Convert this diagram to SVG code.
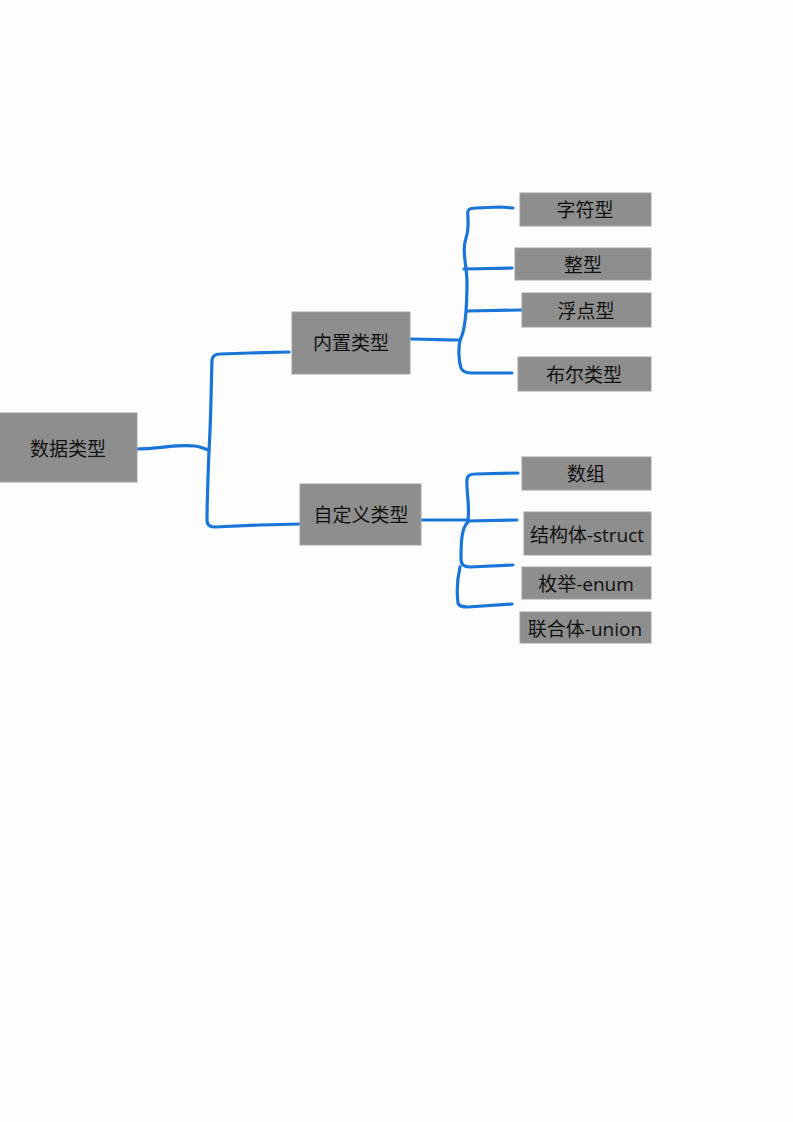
<svg xmlns="http://www.w3.org/2000/svg" width="793" height="1122" viewBox="0 0 793 1122">
<style>
.box{fill:#8e8e8e;stroke:#a0a0a0;stroke-width:1}
.t{font-family:"Open Sans","Noto Sans CJK SC",sans-serif;font-size:19px;fill:#111;text-anchor:middle;dominant-baseline:central}
.c{fill:none;stroke:#1976d8;stroke-width:3.2;stroke-linecap:round;stroke-linejoin:round}
</style>
<rect width="793" height="1122" fill="#fdfdfd"/>
<g id="connectors">
<path class="c" d="M135,449 C160,449 175,444 195,446 C203,447 206,450 209,450"/>
<path class="c" d="M209,450 C211,420 211,390 212,360 Q213,354 220,354 L250,353 L289,352"/>
<path class="c" d="M209,450 C208,480 207,500 207,520 Q207,527 214,527 L260,525 L301,524"/>
<path class="c" d="M411,339 C430,339 445,340 460,340"/>
<path class="c" d="M460,340 C466,330 467,300 467,280 C466,262 462,250 466,238 C470,226 467,215 468,211 Q469,208 476,208 L500,207 L513,208"/>
<path class="c" d="M464,269 L512,268"/>
<path class="c" d="M467,311 L522,310"/>
<path class="c" d="M460,340 C458,350 459,362 461,368 Q463,373 472,373 L512,373"/>
<path class="c" d="M417,520 L468,520"/>
<path class="c" d="M468,520 C470,505 466,490 467,480 Q467,474 475,474 L518,473"/>
<path class="c" d="M468,521 L517,520"/>
<path class="c" d="M468,522 C461,528 461,545 461,560 Q461,567 470,567 L513,565"/>
<path class="c" d="M460,567 C457,580 457,595 458,603 Q459,607 468,607 L512,604"/>
</g>
<g id="n-root"><rect class="box" x="-1" y="413" width="138" height="69"/><text class="t" x="68" y="449">数据类型</text></g>
<g id="n-builtin"><rect class="box" x="292" y="312" width="118" height="62"/><text class="t" x="351" y="343">内置类型</text></g>
<g id="n-custom"><rect class="box" x="300" y="484" width="121" height="61"/><text class="t" x="361" y="515">自定义类型</text></g>
<g id="n-char"><rect class="box" x="520" y="193" width="131" height="33"/><text class="t" x="585" y="210">字符型</text></g>
<g id="n-int"><rect class="box" x="515" y="248" width="136" height="32"/><text class="t" x="583" y="265">整型</text></g>
<g id="n-float"><rect class="box" x="522" y="293" width="129" height="34"/><text class="t" x="586" y="311">浮点型</text></g>
<g id="n-bool"><rect class="box" x="518" y="357" width="133" height="34"/><text class="t" x="584" y="375">布尔类型</text></g>
<g id="n-array"><rect class="box" x="522" y="457" width="129" height="33"/><text class="t" x="586" y="474">数组</text></g>
<g id="n-struct"><rect class="box" x="524" y="512" width="127" height="43"/><text class="t" x="587" y="535">结构体-struct</text></g>
<g id="n-enum"><rect class="box" x="522" y="567" width="129" height="32"/><text class="t" x="586" y="584">枚举-enum</text></g>
<g id="n-union"><rect class="box" x="520" y="612" width="131" height="31"/><text class="t" x="585" y="629">联合体-union</text></g>
</svg>
